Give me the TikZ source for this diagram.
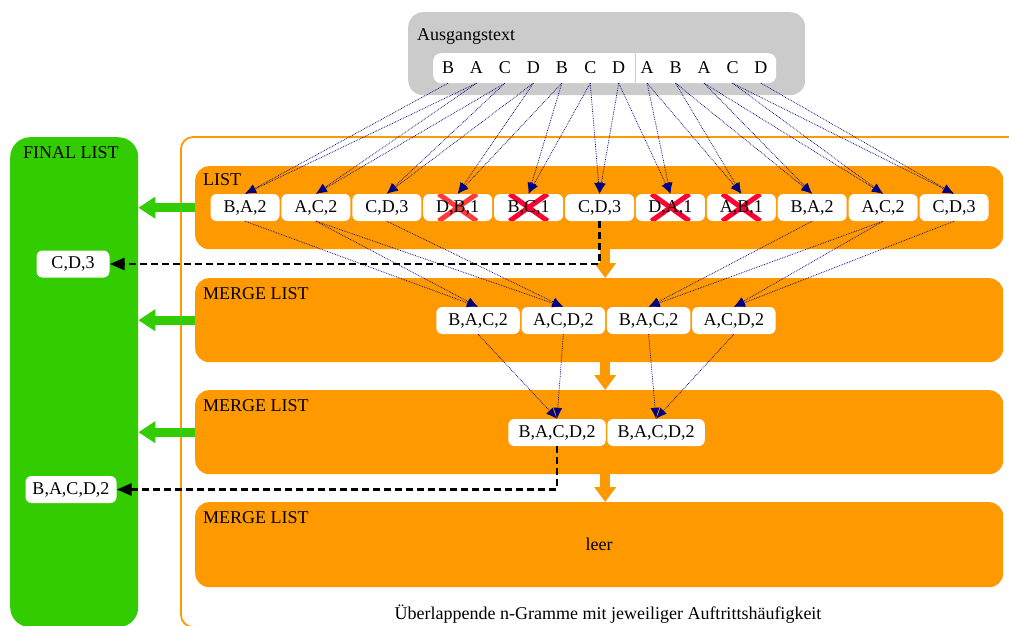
\documentclass[tikz,border=0pt]{standalone}
\usepackage{fontspec}
\setmainfont{Liberation Serif}
\usepackage{tikz}
\usetikzlibrary{positioning}
\usetikzlibrary{arrows.meta}
\definecolor{listorange}{HTML}{FF9900}
\definecolor{finalgreen}{HTML}{33CC00}
\definecolor{sourcegray}{HTML}{CBCBCB}
\definecolor{linknavy}{HTML}{000080}
\definecolor{dropred}{HTML}{FF0033}
\definecolor{dropredlight}{HTML}{FF3B3B}
\tikzset{
    ngram diagram/.style={
            x=1pt,y=-1pt,
            font=\fontsize{18}{21}\selectfont,
            panel/.style={anchor=north west, inner sep=0pt, rounded corners=14pt},
            heading/.style={anchor=north west, inner sep=3pt},
            letter/.style={node distance=28.45pt, minimum width=20pt, minimum height=30pt, inner sep=0pt},
            gram/.style={fill=white, rounded corners=6pt, minimum height=27pt, inner sep=0pt},
            bigram/.style={gram, minimum width=69pt, node distance=70.9pt},
            trigram/.style={gram, minimum width=83.5pt, node distance=85.3pt},
            fourgram/.style={gram, minimum width=97.5pt, node distance=99pt},
            link/.style={linknavy, densely dotted, line width=0.75pt, -{Latex[length=11pt,width=9pt]}},
            pass/.style={listorange, line width=10pt, -{Triangle[length=15pt,width=21pt]}},
            keep/.style={finalgreen, line width=9pt, -{Triangle[length=17pt,width=21pt]}},
            found/.style={black, line width=2.8pt, dash pattern=on 7pt off 4pt, -{Triangle[length=15pt,width=12pt]}},
            drop/.style={line width=5pt},
            dropped/.style={path picture={
                \draw [drop, ##1] ([xshift=-19pt]path picture bounding box.north) -- ([xshift=19pt]path picture bounding box.south);
                \draw [drop, ##1] ([xshift=19pt]path picture bounding box.north) -- ([xshift=-19pt]path picture bounding box.south);
            }},
            dropped/.default=dropred
        }
    }

\begin{document}
\begin{tikzpicture}[ngram diagram]
        \useasboundingbox (0,0) rectangle (1009,626);
        \draw [listorange, line width=1.8pt, rounded corners=12pt] (1020,137) -- (181,137) -- (181,627) -- (1020,627);
        \node (final) [panel, fill=finalgreen, rounded corners=20pt, minimum width=128pt, minimum height=490pt] at (10,137) {};
        \node (finalhead) [heading] at ([xshift=10pt,yshift=-6pt]final.north west) {FINAL LIST};
        \node (src) [panel, fill=sourcegray, rounded corners=15pt, minimum width=397pt, minimum height=83pt] at (408,12) {};
        \node (srchead) [heading] at ([xshift=6pt,yshift=-13pt]src.north west) {Ausgangstext};
        \node (row) [panel, fill=white, rounded corners=8pt, minimum width=343pt, minimum height=30pt] at (433,53) {};
        \draw [sourcegray] (635,53) -- (635,83);
        \node (l1) [letter] at (448,68) {B};
        \node (l2) [letter, right of=l1] {A};
        \node (l3) [letter, right of=l2] {C};
        \node (l4) [letter, right of=l3] {D};
        \node (l5) [letter, right of=l4] {B};
        \node (l6) [letter, right of=l5] {C};
        \node (l7) [letter, right of=l6] {D};
        \node (l8) [letter, right of=l7] {A};
        \node (l9) [letter, right of=l8] {B};
        \node (l10) [letter, right of=l9] {A};
        \node (l11) [letter, right of=l10] {C};
        \node (l12) [letter, right of=l11] {D};
        \node (lst) [panel, fill=listorange, minimum width=808pt, minimum height=83pt] at (195,166) {};
        \node (lsthead) [heading] at ([xshift=5pt,yshift=-4pt]lst.north west) {LIST};
        \node (m1) [panel, fill=listorange, minimum width=808pt, minimum height=84pt] at (195,278) {};
        \node (m1head) [heading] at ([xshift=5pt,yshift=-6pt]m1.north west) {MERGE LIST};
        \node (m2) [panel, fill=listorange, minimum width=808pt, minimum height=84pt] at (195,390) {};
        \node (m2head) [heading] at ([xshift=5pt,yshift=-6pt]m2.north west) {MERGE LIST};
        \node (m3) [panel, fill=listorange, minimum width=808pt, minimum height=85pt] at (195,502) {};
        \node (m3head) [heading] at ([xshift=5pt,yshift=-6pt]m3.north west) {MERGE LIST};
        \node (empty) at (m3.center) {leer};
        \node (caption) [anchor=base] at (608,619) {Überlappende n-Gramme mit jeweiliger Auftrittshäufigkeit};
        \node (b1) [bigram] at (245,207.5) {B,A,2};
        \node (b2) [bigram, right of=b1] {A,C,2};
        \node (b3) [bigram, right of=b2] {C,D,3};
        \node (b4) [bigram, right of=b3, dropped=dropredlight] {D,B,1};
        \node (b5) [bigram, right of=b4, dropped] {B,C,1};
        \node (b6) [bigram, right of=b5] {C,D,3};
        \node (b7) [bigram, right of=b6, dropped] {D,A,1};
        \node (b8) [bigram, right of=b7, dropped] {A,B,1};
        \node (b9) [bigram, right of=b8] {B,A,2};
        \node (b10) [bigram, right of=b9] {A,C,2};
        \node (b11) [bigram, right of=b10] {C,D,3};
        \node (t1) [trigram] at (478,320.5) {B,A,C,2};
        \node (t2) [trigram, right of=t1] {A,C,D,2};
        \node (t3) [trigram, right of=t2] {B,A,C,2};
        \node (t4) [trigram, right of=t3] {A,C,D,2};
        \node (q1) [fourgram] at (557,432.5) {B,A,C,D,2};
        \node (q2) [fourgram, right of=q1] {B,A,C,D,2};
        \node (f1) [gram, minimum width=73pt] at (73,264) {C,D,3};
        \node (f2) [gram, minimum width=91pt] at (71,489.5) {B,A,C,D,2};
        \draw [link] (l1.south) -- (b1.north);
        \draw [link] (l2.south) -- (b1.north);
        \draw [link] (l2.south) -- (b2.north);
        \draw [link] (l3.south) -- (b2.north);
        \draw [link] (l3.south) -- (b3.north);
        \draw [link] (l4.south) -- (b3.north);
        \draw [link] (l4.south) -- (b4.north);
        \draw [link] (l5.south) -- (b4.north);
        \draw [link] (l5.south) -- (b5.north);
        \draw [link] (l6.south) -- (b5.north);
        \draw [link] (l6.south) -- (b6.north);
        \draw [link] (l7.south) -- (b6.north);
        \draw [link] (l7.south) -- (b7.north);
        \draw [link] (l8.south) -- (b7.north);
        \draw [link] (l8.south) -- (b8.north);
        \draw [link] (l9.south) -- (b8.north);
        \draw [link] (l9.south) -- (b9.north);
        \draw [link] (l10.south) -- (b9.north);
        \draw [link] (l10.south) -- (b10.north);
        \draw [link] (l11.south) -- (b10.north);
        \draw [link] (l11.south) -- (b11.north);
        \draw [link] (l12.south) -- (b11.north);
        \draw [link] (b1.south) -- (t1.north);
        \draw [link] (b2.south) -- (t1.north);
        \draw [link] (b2.south) -- (t2.north);
        \draw [link] (b3.south) -- (t2.north);
        \draw [link] (b9.south) -- (t3.north);
        \draw [link] (b10.south) -- (t3.north);
        \draw [link] (b10.south) -- (t4.north);
        \draw [link] (b11.south) -- (t4.north);
        \draw [link] (t1.south) -- (q1.north);
        \draw [link] (t2.south) -- (q1.north);
        \draw [link] (t3.south) -- (q2.north);
        \draw [link] (t4.south) -- (q2.north);
        \draw [keep] (lst.west) -- (final.east |- lst.west);
        \draw [keep] (m1.west) -- (final.east |- m1.west);
        \draw [keep] (m2.west) -- (final.east |- m2.west);
        \draw [pass] ([xshift=6pt]lst.south) -- ([xshift=6pt]m1.north);
        \draw [pass] ([xshift=6pt]m1.south) -- ([xshift=6pt]m2.north);
        \draw [pass] ([xshift=6pt]m2.south) -- ([xshift=6pt]m3.north);
        \draw [found] (b6.south) |- (f1.east);
        \draw [found] (q1.south) |- (f2.east);
    \end{tikzpicture}
\end{document}
